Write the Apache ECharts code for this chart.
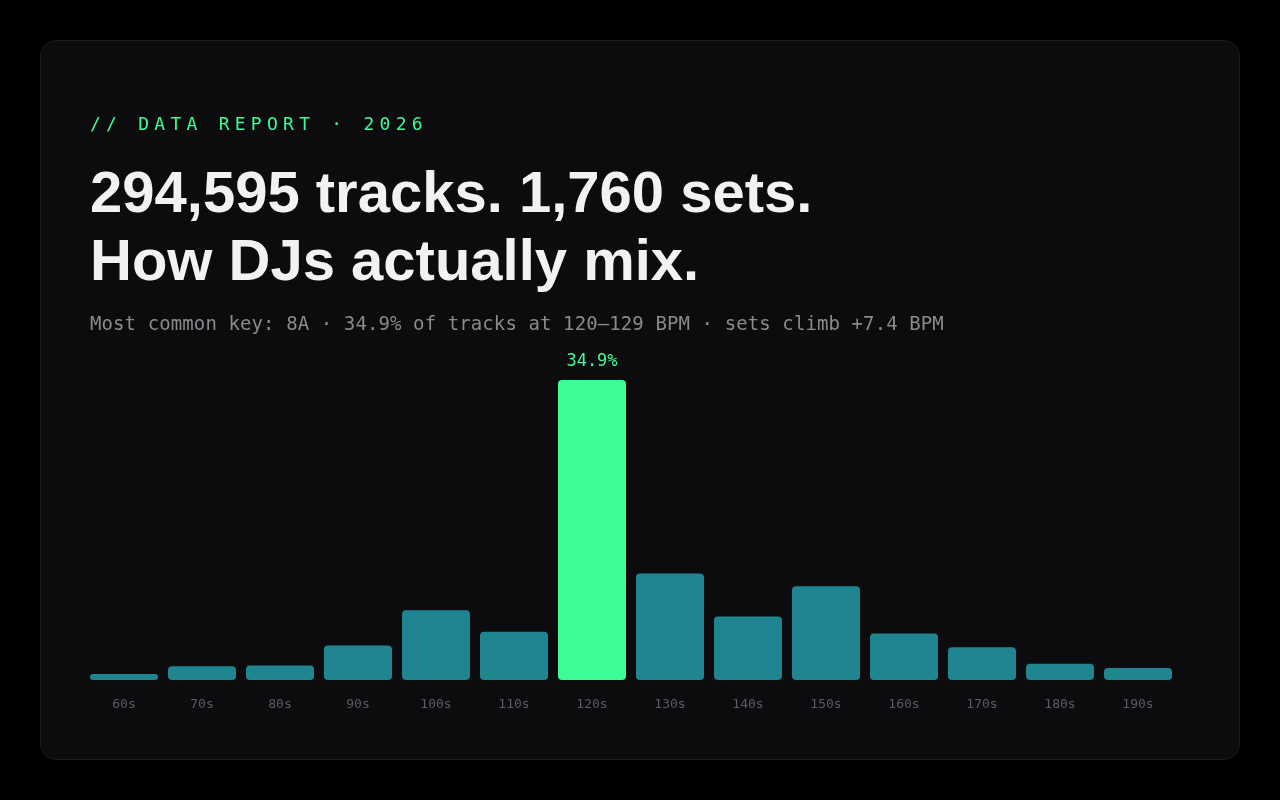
<!DOCTYPE html>
<html>
<head>
<meta charset="utf-8">
<script src="https://cdn.jsdelivr.net/npm/echarts@6/dist/echarts.min.js"></script>
<style>
  html, body { margin: 0; padding: 0; width: 1280px; height: 800px; background: #000; overflow: hidden; }
  .card { position: absolute; left: 40px; top: 40px; width: 1200px; height: 720px; box-sizing: border-box;
          background: #0c0c0e; border: 1px solid #1d1d20; border-radius: 16px; }
  .eyebrow { position: absolute; left: 90px; top: 115px; font-family: "DejaVu Sans Mono", monospace; font-size: 18px;
             line-height: 18px; letter-spacing: 5.25px; color: #3dfc94; white-space: nowrap; }
  .title { position: absolute; left: 90px; top: 158px; font-family: "Liberation Sans", Arial, sans-serif; font-weight: 700;
           font-size: 58px; line-height: 68px; color: #f2f2f2; white-space: nowrap; }
  .sub { position: absolute; left: 90px; top: 314px; font-family: "DejaVu Sans Mono", monospace; font-size: 19px;
         line-height: 19px; letter-spacing: 0.1px; color: #8a8a8d; white-space: nowrap; }
  #chart { position: absolute; left: 0; top: 0; width: 1280px; height: 800px; }
</style>
</head>
<body>
<div class="card"></div>
<div id="chart"></div>
<div class="eyebrow">// DATA REPORT · 2026</div>
<div class="title">294,595 tracks. 1,760 sets.<br>How DJs actually mix.</div>
<div class="sub">Most common key: 8A · 34.9% of tracks at 120–129 BPM · sets climb +7.4 BPM</div>
<script>
const categories = ['60s','70s','80s','90s','100s','110s','120s','130s','140s','150s','160s','170s','180s','190s'];
const shares = [0.7, 1.6, 1.7, 4.0, 8.1, 5.6, 34.9, 12.4, 7.4, 10.9, 5.4, 3.8, 1.9, 1.4];
const highlightCategory = '120s';

const chart = echarts.init(document.getElementById('chart'), null, { renderer: 'canvas' });
const seriesData = shares.map((v, i) => {
  const hi = categories[i] === highlightCategory;
  return {
    value: v,
    itemStyle: { color: hi ? '#3dfc94' : '#1f8591', borderRadius: 4 },
    label: {
      show: hi,
      position: 'top',
      distance: 10,
      formatter: p => p.value.toFixed(1) + '%',
      color: '#3dfc94',
      fontFamily: 'DejaVu Sans Mono',
      fontSize: 17
    }
  };
});
chart.setOption({
  backgroundColor: 'transparent',
  animation: false,
  grid: { left: 85, right: 103, top: 380, bottom: 120, containLabel: false },
  xAxis: {
    type: 'category',
    data: categories,
    axisLine: { show: false },
    axisTick: { show: false },
    axisLabel: { color: '#5a5b5f', fontFamily: 'DejaVu Sans Mono', fontSize: 13, margin: 18 }
  },
  yAxis: {
    type: 'value',
    min: 0,
    max: 'dataMax',
    show: false,
    splitLine: { show: false }
  },
  series: [{
    type: 'bar',
    data: seriesData,
    barWidth: 68
  }]
});
</script>
</body>
</html>
